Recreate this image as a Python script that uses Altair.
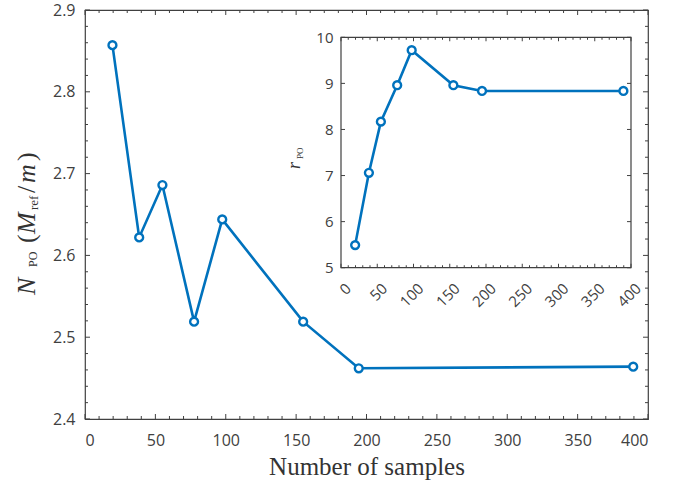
import altair as alt
import pandas as pd

# ---------------- data ----------------
samples = [19.5, 38.5, 55, 77.5, 97.5, 155, 194.5, 389.5]
n_po = [2.857, 2.622, 2.686, 2.519, 2.644, 2.519, 2.462, 2.464]
r_po = [5.49, 7.06, 8.17, 8.96, 9.72, 8.96, 8.835, 8.835]

main_x_ticks = [0, 50, 100, 150, 200, 250, 300, 350, 400]
main_y_ticks = [2.4, 2.5, 2.6, 2.7, 2.8, 2.9]
main_x_minor = [v for v in range(0, 401, 10) if v % 50]
main_y_minor = [round(2.4 + 0.02 * i, 2) for i in range(26) if i % 5]
inset_x_ticks = [0, 50, 100, 150, 200, 250, 300, 350, 400]
inset_x_minor = [v for v in range(0, 401, 10) if v % 50]
inset_y_ticks = [5, 6, 7, 8, 9, 10]

x_title = "Number of samples"

# ---------------- style ----------------
W, H = 563, 409
BLUE = "#0072BD"
FRAME = "#404040"
LABEL = "#404040"
TITLE_C = "#333333"
SANS = "Open Sans"
SERIF = "Liberation Serif"

# inset placement (pixel range inside plot area)
IX0, IX1 = 256, 546
IY0, IY1 = 257.7, 27.3

df = pd.DataFrame({"x": samples, "n": n_po, "r": r_po})
one = pd.DataFrame({"a": [0]})


def mxs():
    return alt.Scale(domain=[0, 400], nice=False, zero=False)


def mys():
    return alt.Scale(domain=[2.4, 2.9], nice=False, zero=False)


def ixs():
    return alt.Scale(domain=[0, 400], range=[IX0, IX1], nice=False, zero=False)


def iys():
    return alt.Scale(domain=[5, 10], range=[IY0, IY1], nice=False, zero=False)


def xticks(vals, xs, ys, ydatum, size, off):
    return alt.Chart(pd.DataFrame({"v": vals})).mark_tick(
        orient="vertical", size=size, thickness=1, color=FRAME, yOffset=off, opacity=1
    ).encode(x=alt.X("v:Q", scale=xs, axis=None), y=alt.YDatum(ydatum, scale=ys, axis=None))


def yticks(vals, xs, ys, xdatum, size, off):
    return alt.Chart(pd.DataFrame({"v": vals})).mark_tick(
        orient="horizontal", size=size, thickness=1, color=FRAME, xOffset=off, opacity=1
    ).encode(y=alt.Y("v:Q", scale=ys, axis=None), x=alt.XDatum(xdatum, scale=xs, axis=None))


def piece(text, x, y, size, style="normal"):
    return alt.Chart(one).mark_text(
        text=text, angle=270, align="left", baseline="alphabetic",
        font=SERIF, fontSize=size, fontStyle=style, color=TITLE_C
    ).encode(x=alt.value(x), y=alt.value(y))


# ---------------- main plot ----------------
main_line = alt.Chart(df).mark_line(color=BLUE, strokeWidth=2.6).encode(
    x=alt.X("x:Q", scale=mxs(), axis=alt.Axis(
        values=main_x_ticks, orient="bottom", domain=False, ticks=False, grid=False,
        labelPadding=13, labelFont=SANS, labelFontSize=16, labelColor=LABEL,
        title=x_title, titleFont=SERIF, titleFontSize=25, titleFontWeight="normal",
        titleColor=TITLE_C, titlePadding=6)),
    y=alt.Y("n:Q", scale=mys(), axis=alt.Axis(
        values=main_y_ticks, format=".1f", orient="left", domain=False, ticks=False, grid=False,
        labelPadding=10, labelFont=SANS, labelFontSize=16, labelColor=LABEL, title=None)),
)
main_pts = alt.Chart(df).mark_point(
    shape="circle", filled=True, fill="white", stroke=BLUE, strokeWidth=2.4, size=62, opacity=1
).encode(x=alt.X("x:Q", scale=mxs(), axis=None), y=alt.Y("n:Q", scale=mys(), axis=None))

main_layers = [
    main_line, main_pts,
    xticks(main_x_ticks, mxs(), mys(), 2.4, 5, -2.5),
    xticks(main_x_minor, mxs(), mys(), 2.4, 3, -1.5),
    xticks(main_x_ticks, mxs(), mys(), 2.9, 5, 2.5),
    xticks(main_x_minor, mxs(), mys(), 2.9, 3, 1.5),
    yticks(main_y_ticks, mxs(), mys(), 0, 5, 2.5),
    yticks(main_y_minor, mxs(), mys(), 0, 3, 1.5),
    yticks(main_y_ticks, mxs(), mys(), 400, 5, -2.5),
    yticks(main_y_minor, mxs(), mys(), 400, 3, -1.5),
    # y title:  N_PO (M_ref / m)
    piece("N", -50, 285, 26, "italic"),
    piece("PO", -48.5, 257, 12),
    piece("(", -50, 233, 26),
    piece("M", -50, 224, 26, "italic"),
    piece("ref", -47.5, 200, 13),
    piece("/", -50, 183, 26),
    piece("m", -50, 173, 26, "italic"),
    piece(")", -50, 151, 26),
]

# ---------------- inset ----------------
inset_bg = alt.Chart(one).mark_rect(fill="white", stroke=FRAME, strokeWidth=1.2).encode(
    x=alt.XDatum(0, scale=ixs(), axis=None), x2=alt.X2Datum(400),
    y=alt.YDatum(5, scale=iys(), axis=None), y2=alt.Y2Datum(10),
)
inset_line = alt.Chart(df).mark_line(color=BLUE, strokeWidth=2.6).encode(
    x=alt.X("x:Q", scale=ixs(), axis=alt.Axis(
        values=inset_x_ticks, orient="bottom", offset=-(H - IY0), domain=False, ticks=False,
        grid=False, labelAngle=-45, labelAlign="right", labelBaseline="middle",
        labelOverlap=False, labelOffset=7,
        labelPadding=18, labelFont=SANS, labelFontSize=15, labelColor=LABEL, title=None)),
    y=alt.Y("r:Q", scale=iys(), axis=alt.Axis(
        values=inset_y_ticks, orient="left", offset=-IX0, domain=False, ticks=False, grid=False,
        labelPadding=8, labelFont=SANS, labelFontSize=15, labelColor=LABEL, title=None)),
)
inset_pts = alt.Chart(df).mark_point(
    shape="circle", filled=True, fill="white", stroke=BLUE, strokeWidth=2.4, size=62, opacity=1
).encode(x=alt.X("x:Q", scale=ixs(), axis=None), y=alt.Y("r:Q", scale=iys(), axis=None))

inset_layers = [
    inset_bg, inset_line, inset_pts,
    xticks(inset_x_ticks, ixs(), iys(), 5, 4, -2),
    xticks(inset_x_minor, ixs(), iys(), 5, 2.5, -1.25),
    xticks(inset_x_ticks, ixs(), iys(), 10, 4, 2),
    xticks(inset_x_minor, ixs(), iys(), 10, 2.5, 1.25),
    yticks(inset_y_ticks, ixs(), iys(), 0, 4, 2),
    yticks(inset_y_ticks, ixs(), iys(), 400, 4, -2),
    piece("r", 215, 159, 18, "italic"),
    piece("PO", 218, 149, 9),
]

chart = alt.layer(*main_layers, *inset_layers).resolve_scale(
    x="independent", y="independent"
).resolve_axis(x="independent", y="independent").properties(
    width=W, height=H,
    autosize=alt.AutoSizeParams(type="none"),
    padding={"left": 85, "top": 10, "right": 44, "bottom": 67},
    background="white",
).configure_view(stroke=FRAME, strokeWidth=1.2)

chart.save("out.html", embed_options={"renderer": "svg", "actions": False})
